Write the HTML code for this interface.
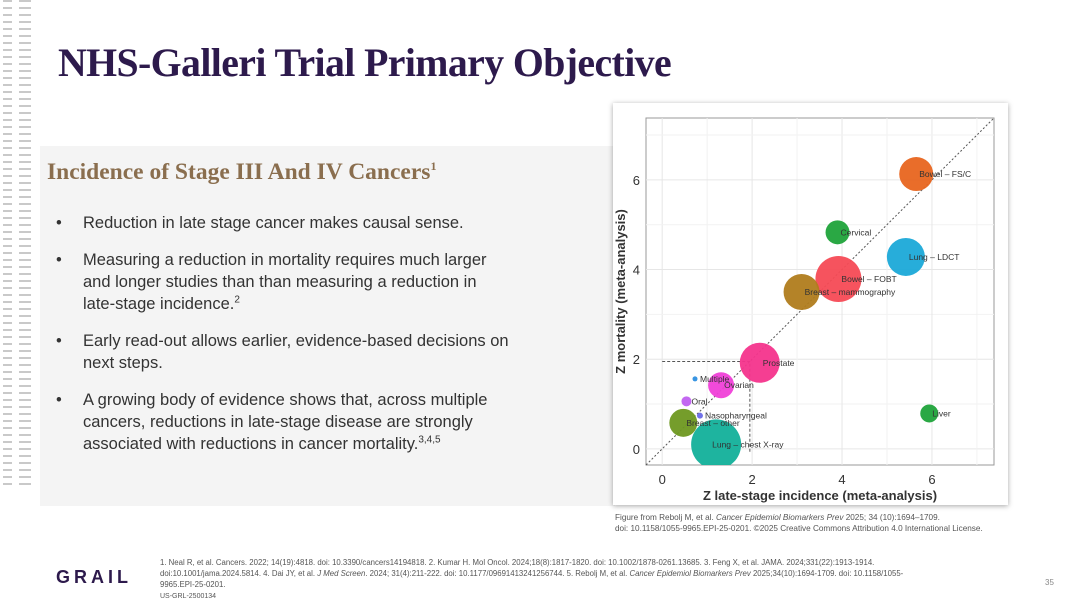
<!DOCTYPE html>
<html><head><meta charset="utf-8">
<style>
*{margin:0;padding:0;box-sizing:border-box}
body{width:1080px;height:602px;position:relative;background:#fff;font-family:"Liberation Sans",sans-serif;overflow:hidden}
.stripes{position:absolute;top:0;height:490px;background:repeating-linear-gradient(to bottom,#c9c9c9 0,#c9c9c9 2px,transparent 2px,transparent 7px)}
.panel{position:absolute;left:40px;top:146px;width:575px;height:360px;background:#f4f4f4}
h1{position:absolute;left:58px;top:40px;font-family:"Liberation Serif",serif;font-weight:bold;font-size:39.8px;color:#2d1a4c;letter-spacing:-0.6px}
h2{position:absolute;left:47px;top:159px;font-family:"Liberation Serif",serif;font-weight:bold;font-size:23.5px;color:#8a6e4e}
h2 sup{font-size:12px}
ul{position:absolute;left:56px;top:212px;width:470px;list-style:none;font-size:16.5px;color:#333;line-height:22px}
ul li{position:relative;padding-left:27px;margin-bottom:15px}
ul li:before{content:"•";position:absolute;left:0}
ul sup{font-size:10px;line-height:0}
.card{position:absolute;left:613px;top:103px;width:395px;height:402px;background:#fff;box-shadow:0 1px 5px rgba(0,0,0,.35)}
.cap{position:absolute;left:615px;top:512px;font-size:8.2px;color:#555;line-height:11px}
.refs{position:absolute;left:160px;top:557px;font-size:7.8px;color:#555;line-height:11px;width:830px}
.logo{position:absolute;left:56px;top:567px;font-size:18px;font-weight:bold;letter-spacing:4px;color:#2d1a4c}
.pg{position:absolute;left:1045px;top:578px;font-size:8px;color:#888}
</style></head><body>
<div class="stripes" style="left:3px;width:9px"></div>
<div class="stripes" style="left:19px;width:12px"></div>
<div class="panel"></div>
<h1>NHS-Galleri Trial Primary Objective</h1>
<h2>Incidence of Stage III And IV Cancers<sup>1</sup></h2>
<ul>
<li>Reduction in late stage cancer makes causal sense.</li>
<li>Measuring a reduction in mortality requires much larger<br>and longer studies than than measuring a reduction in<br>late-stage incidence.<sup>2</sup></li>
<li>Early read-out allows earlier, evidence-based decisions on next steps.</li>
<li>A growing body of evidence shows that, across multiple cancers, reductions in late-stage disease are strongly associated with reductions in cancer mortality.<sup>3,4,5</sup></li>
</ul>
<div class="card"></div>
<svg id="chart" style="position:absolute;left:0;top:0" width="1080" height="602"></svg>
<div class="cap">Figure from Rebolj M, et al. <i>Cancer Epidemiol Biomarkers Prev</i> 2025; 34 (10):1694–1709.<br>doi: 10.1158/1055-9965.EPI-25-0201. ©2025 Creative Commons Attribution 4.0 International License.</div>
<div class="logo">GRAIL</div>
<div class="refs">1. Neal R, et al. Cancers. 2022; 14(19):4818. doi: 10.3390/cancers14194818. 2. Kumar H. Mol Oncol. 2024;18(8):1817-1820. doi: 10.1002/1878-0261.13685. 3. Feng X, et al. JAMA. 2024;331(22):1913-1914.<br>doi:10.1001/jama.2024.5814. 4. Dai JY, et al. <i>J Med Screen</i>. 2024; 31(4):211-222. doi: 10.1177/09691413241256744. 5. Rebolj M, et al. <i>Cancer Epidemiol Biomarkers Prev</i> 2025;34(10):1694-1709. doi: 10.1158/1055-<br>9965.EPI-25-0201.<br><span style="font-size:7px">US-GRL-2500134</span></div>
<div class="pg">35</div>
<script>
const names=["Bowel – FS/C","Cervical","Lung – LDCT","Bowel – FOBT","Breast – mammography","Prostate","Multiple","Ovarian","Oral","Nasopharyngeal","Breast – other","Lung – chest X-ray","Liver"];
const zInc=[5.65,3.9,5.42,3.92,3.1,2.17,0.73,1.31,0.54,0.84,0.47,1.2,5.94];
const zMort=[6.13,4.83,4.28,3.79,3.5,1.92,1.56,1.42,1.06,0.74,0.58,0.1,0.79];
const sizes=[17,12,19,23,18,20,2.5,13,5,3,14,25,9];
const colors=["#e8651f","#1fa33a","#1ba9d8","#f64a55","#b07c1c","#f4348c","#2d8fe0","#f040d8","#c060f0","#6a6ae8","#6e9820","#12b09a","#1fa33a"];
const ticks=[0,2,4,6];
const svg=document.getElementById('chart');const NS="http://www.w3.org/2000/svg";
const L=646,R=994,T=118,B=465,dmin=-0.36,dmax=7.38;
const sx=v=>L+(v-dmin)/(dmax-dmin)*(R-L);
const sy=v=>B-(v-dmin)/(dmax-dmin)*(B-T);
function mk(tag,a,parent){const e=document.createElementNS(NS,tag);for(const k in a)e.setAttribute(k,a[k]);(parent||svg).appendChild(e);return e;}
const clip=mk('clipPath',{id:'pc'});mk('rect',{x:L,y:T,width:R-L,height:B-T},clip);
let f=mk('rect',{x:L,y:T,width:R-L,height:B-T,fill:'#fff',stroke:'#999','stroke-width':1});


for(let v=0;v<=7;v++){
 const maj=v%2==0;
 let g=mk('line',{x1:sx(v),x2:sx(v),y1:T,y2:B,stroke:maj?'#e6e6e6':'#f2f2f2','stroke-width':1});
 
 
 let h=mk('line',{x1:L,x2:R,y1:sy(v),y2:sy(v),stroke:maj?'#e6e6e6':'#f2f2f2','stroke-width':1});
 
 
}
ticks.forEach(t=>{
 let a=mk('text',{x:sx(t),y:B+19,'text-anchor':'middle','font-size':13,fill:'#333'});a.textContent=t;
 
 
 let b=mk('text',{x:L-6,y:sy(t)+5,'text-anchor':'end','font-size':13,fill:'#333'});b.textContent=t;
 
 
});
let d=mk('line',{x1:sx(dmin),y1:sy(dmin),x2:sx(dmax),y2:sy(dmax),stroke:'#555','stroke-width':1,'stroke-dasharray':'2,2'});


let g1=mk('polyline',{points:`${sx(0)},${sy(1.95)} ${sx(1.95)},${sy(1.95)} ${sx(1.95)},${sy(-0.1)}`,fill:'none',stroke:'#555','stroke-dasharray':'3,2'});


const cg=mk('g',{'clip-path':'url(#pc)'});
names.forEach((n,i)=>{
 let c=mk('circle',{cx:sx(zInc[i]),cy:sy(zMort[i]),r:sizes[i],fill:colors[i],'fill-opacity':0.95},cg);
 
 
});
names.forEach((n,i)=>{
 let t=mk('text',{x:sx(zInc[i])+(i==11?-4:(i==6||i==8||i==9?5:3)),y:sy(zMort[i])+3,'font-size':8.5,fill:'#333'});t.textContent=n;
 
 
});
let xt=mk('text',{x:(L+R)/2,y:B+35,'text-anchor':'middle','font-size':13,'font-weight':'bold',fill:'#333'});xt.textContent='Z late-stage incidence (meta-analysis)';


let yt=mk('text',{x:0,y:0,'text-anchor':'middle','font-size':13,'font-weight':'bold',fill:'#333',transform:`translate(625,${(T+B)/2}) rotate(-90)`});yt.textContent='Z mortality (meta-analysis)';


</script>
</body></html>
